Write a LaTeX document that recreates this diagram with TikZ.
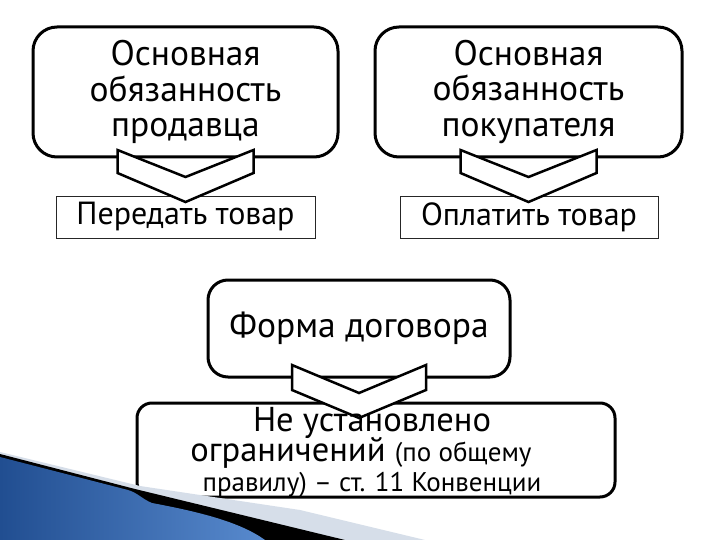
\documentclass[tikz,border=0pt]{standalone}
\usepackage{fontspec}
\setmainfont{PT Sans}
\usetikzlibrary{calc}
\definecolor{swdark}{RGB}{33,78,145}
\definecolor{swlight}{RGB}{88,138,206}
\definecolor{swgray}{RGB}{214,222,233}
\begin{document}
\begin{tikzpicture}[x=1pt,y=-1pt,
  bigbox/.style={draw=black, line width=3pt, rounded corners=24pt, fill=white,
    align=center, inner sep=0pt, outer sep=0pt,
    font=\fontsize{35.5}{35.5}\selectfont},
  thinbox/.style={draw=black!85, line width=0.8pt, fill=white, inner sep=0pt,
    outer sep=0pt, font=\fontsize{32}{36}\selectfont},
  chev/.style={draw=black, line width=2.5pt, fill=white, line join=miter},
  txt/.style={inner sep=0pt, anchor=base},
]
\useasboundingbox (0,0) rectangle (720,540);
\fill[white] (0,0) rectangle (720,540);

% top row
\node[bigbox, minimum width=305pt, minimum height=130pt] (b1) at (185.5,92)
  {Основная\\обязанность\\продавца};
\node[bigbox, minimum width=307pt, minimum height=130pt] (b2) at (528.5,92)
  {Основная\\обязанность\\покупателя};
\node[thinbox, minimum width=259pt, minimum height=42pt] (r1) at (185.5,217)
  {Передать товар};
\node[thinbox, minimum width=258pt, minimum height=42pt] (r2) at (529,217)
  {Оплатить товар};

\foreach \b in {b1,b2}{
  \draw[chev] ($(\b.south)+(-68,-7)$) -- ($(\b.south)+(0,20)$) -- ($(\b.south)+(68,-7)$)
    -- ($(\b.south)+(68,16)$) -- ($(\b.south)+(0,45)$) -- ($(\b.south)+(-68,16)$) -- cycle;
}

% bottom part
\node[bigbox, rounded corners=20pt, minimum width=302pt, minimum height=97pt] (b3) at (359,328.5)
  {Форма договора};
\node[bigbox, rounded corners=15pt, minimum width=478pt, minimum height=94pt] (b4) at (376,450) {};
\draw[chev] ($(b3.south)+(-67,-12)$) -- ($(b3.south)+(0,16)$) -- ($(b3.south)+(67,-12)$)
  -- ($(b3.south)+(67,13)$) -- ($(b3.south)+(0,41)$) -- ($(b3.south)+(-67,13)$) -- cycle;

\node[txt, font=\fontsize{34.5}{34.5}\selectfont] (t4a) at (372,431) {Не установлено};
\node[txt] (t4b) at (361,461) {\fontsize{34.5}{34.5}\selectfont ограничений \fontsize{27}{27}\selectfont(по общему};
\node[txt, font=\fontsize{27}{27}\selectfont] (t4c) at (372,491) {правилу) – ст. 11 Конвенции};

% decorative swoosh
\fill[swgray] (0,452) -- (140,486) -- (300,510) -- (425,540) -- (0,540) -- cycle;
\fill[black] (0,454) -- (135,489) -- (345,540) -- (0,540) -- cycle;
\shade[left color=swdark, right color=swlight] (0,457) -- (128,490)
  .. controls (138,493) and (142,499) .. (152,503)
  .. controls (200,512) and (240,522) .. (265,540) -- (0,540) -- cycle;
\end{tikzpicture}
\end{document}
